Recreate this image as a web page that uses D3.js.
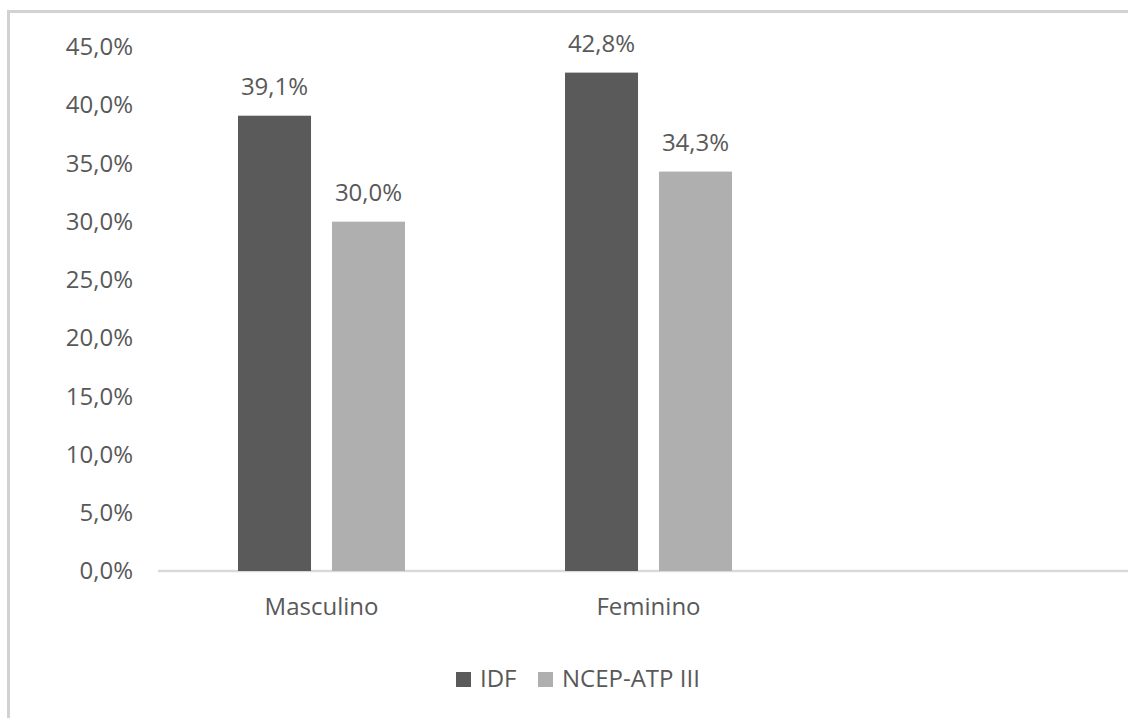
<!DOCTYPE html>
<html><head><meta charset="utf-8">
<script src="https://cdn.jsdelivr.net/npm/d3@7"></script>
<style>html,body{margin:0;padding:0;background:#fff;}svg{display:block;}</style>
</head><body>
<svg id="c" width="1128" height="718"></svg>
<script>
const categories = ["Masculino", "Feminino"];
const seriesNames = ["IDF", "NCEP-ATP III"];
const idfValues = [39.1, 42.8];
const ncepValues = [30.0, 34.3];
const yTicks = [0, 5, 10, 15, 20, 25, 30, 35, 40, 45];
const seriesColors = ["#5a5a5a", "#afafaf"];

const svg = d3.select("#c");
const W = 1128, H = 718;
const font = "'Open Sans', sans-serif";
const textColor = "#595959";

// outer border
svg.append("rect").attr("x", 8.5).attr("y", 11.5).attr("width", W + 20).attr("height", H + 20)
  .attr("fill", "none").attr("stroke", "#d2d2d2").attr("stroke-width", 3);

const y = d3.scaleLinear().domain([0, 45]).range([571, 47]);
const x = d3.scaleBand().domain(categories).range([158, 158 + 327 * categories.length]).padding(0);
const groupW = 167;
const xs = d3.scaleBand().domain(seriesNames).range([0, groupW]).paddingInner(0.223).paddingOuter(0);

// y axis labels
const yAxis = d3.axisLeft(y).tickValues(yTicks).tickSize(0).tickPadding(0)
  .tickFormat(d => d.toFixed(1).replace(".", ",") + "%");
const yg = svg.append("g").attr("transform", "translate(133,0)").call(yAxis);
yg.select(".domain").remove();
yg.selectAll("text").attr("font-family", font).attr("font-size", 24).attr("fill", textColor);

// baseline
svg.append("line").attr("x1", 158).attr("x2", W + 5).attr("y1", y(0)).attr("y2", y(0))
  .attr("stroke", "#d9d9d9").attr("stroke-width", 2.5);

const data = categories.map((c, i) => ({cat: c, vals: [idfValues[i], ncepValues[i]]}));
const groups = svg.append("g").selectAll("g").data(data).join("g")
  .attr("transform", d => `translate(${x(d.cat) + (x.bandwidth() - groupW) / 2},0)`);

groups.selectAll("rect").data(d => d.vals.map((v, j) => ({s: seriesNames[j], v, j})))
  .join("rect")
  .attr("x", d => xs(d.s)).attr("width", xs.bandwidth())
  .attr("y", d => y(d.v)).attr("height", d => y(0) - y(d.v))
  .attr("fill", d => seriesColors[d.j]);

groups.selectAll("text.val").data(d => d.vals.map((v, j) => ({s: seriesNames[j], v, j})))
  .join("text").attr("class", "val")
  .attr("x", d => xs(d.s) + xs.bandwidth() / 2).attr("y", d => y(d.v) - 21)
  .attr("text-anchor", "middle").attr("font-family", font).attr("font-size", 24).attr("fill", textColor)
  .text(d => d.v.toFixed(1).replace(".", ",") + "%");

// x axis labels
const xAxis = d3.axisBottom(x).tickSize(0).tickPadding(0);
const xg = svg.append("g").attr("transform", "translate(0,598)").call(xAxis);
xg.select(".domain").remove();
xg.selectAll("text").attr("font-family", font).attr("font-size", 24).attr("fill", textColor).attr("dy", "0.71em");

// legend
const legendX = [456, 538];
const lg = svg.append("g").selectAll("g").data(seriesNames).join("g")
  .attr("transform", (d, i) => `translate(${legendX[i]},672)`);
lg.append("rect").attr("width", 15).attr("height", 15).attr("fill", (d, i) => seriesColors[i]);
lg.append("text").attr("x", 24).attr("y", 15).attr("font-family", font).attr("font-size", 24)
  .attr("fill", textColor).text(d => d);
</script>
</body></html>
